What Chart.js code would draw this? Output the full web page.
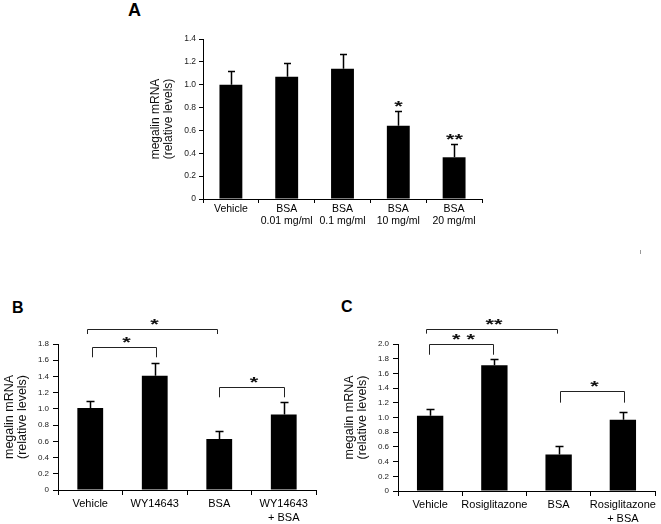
<!DOCTYPE html>
<html><head><meta charset="utf-8">
<script src="https://cdn.jsdelivr.net/npm/chart.js@4"></script>
<style>
html,body{margin:0;padding:0;background:#fff;}
body{width:661px;height:524px;position:relative;overflow:hidden;font-family:"Liberation Sans",Arial,sans-serif;}
canvas{position:absolute;}
.lbl{position:absolute;font-weight:bold;font-size:16px;line-height:16px;color:#000;}
.mark{position:absolute;left:640px;top:250px;width:1px;height:4px;background:#999;}
</style></head><body>
<div class="lbl" style="left:128px;top:1px;font-size:18px;line-height:18px">A</div>
<div class="lbl" style="left:12px;top:300px">B</div>
<div class="lbl" style="left:341px;top:299px">C</div>
<div class="mark"></div>
<canvas id="cA" width="354" height="235" style="left:146px;top:0px"></canvas>
<canvas id="cB" width="330" height="234" style="left:0px;top:290px"></canvas>
<canvas id="cC" width="321" height="234" style="left:340px;top:290px"></canvas>
<script>
// ---- Panel A data ----
const categoriesA = ['Vehicle', ['BSA','0.01 mg/ml'], ['BSA','0.1 mg/ml'], ['BSA','10 mg/ml'], ['BSA','20 mg/ml']];
const meansA = [1.00, 1.07, 1.14, 0.64, 0.365];
const errorsA = [0.12, 0.12, 0.13, 0.13, 0.12];
const starsA = ['', '', '', '*', '**'];
const yTicksA = ['0','0.2','0.4','0.6','0.8','1.0','1.2','1.4'];

// ---- Panel B data ----
const categoriesB = ['Vehicle', 'WY14643', 'BSA', ['WY14643','+ BSA']];
const meansB = [1.01, 1.41, 0.63, 0.93];
const errorsB = [0.09, 0.155, 0.095, 0.15];
const yTicksB = ['0','0.2','0.4','0.6','0.8','1.0','1.2','1.4','1.6','1.8'];
const bracketFromB = [-0.05, 0.03, 2.0];
const bracketToB = [1.97, 1.02, 3.0];
const bracketTopB = [1.985, 1.767, 1.274];
const bracketLowB = [1.923, 1.636, 1.143];
const bracketLabelB = ['*', '*', '*'];

// ---- Panel C data ----
const categoriesC = ['Vehicle', 'Rosiglitazone', 'BSA', ['Rosiglitazone','+ BSA']];
const meansC = [1.025, 1.71, 0.497, 0.97];
const errorsC = [0.09, 0.09, 0.12, 0.10];
const yTicksC = ['0','0.2','0.4','0.6','0.8','1.0','1.2','1.4','1.6','1.8','2.0'];
const bracketFromC = [-0.058, -0.022, 2.017];
const bracketToC = [1.975, 0.98, 3.018];
const bracketTopC = [2.209, 2.0, 1.362];
const bracketLowC = [2.141, 1.854, 1.202];
const bracketLabelC = ['**', '* *', '*'];

const FONT = "'Liberation Sans', Arial, sans-serif";

function drawStars(ctx, text, cx, cy) {
  ctx.save();
  ctx.font = 'bold 15px ' + FONT;
  ctx.fillStyle = '#111';
  ctx.textAlign = 'center';
  ctx.textBaseline = 'alphabetic';
  ctx.translate(cx, cy);
  ctx.scale(1.45, 1);
  ctx.fillText(text, 0, 8.5);
  ctx.restore();
}

function makeAnnot(cfg) {
  return {
    id: 'annot',
    afterDatasetsDraw(chart) {
      const ctx = chart.ctx, xs = chart.scales.x, ys = chart.scales.y;
      ctx.save();
      ctx.strokeStyle = '#000';
      ctx.lineWidth = 1.5;
      cfg.means.forEach((m, i) => {
        const px = Math.round(xs.getPixelForValue(i)) + 0.5;
        const y0 = ys.getPixelForValue(m);
        const y1 = Math.round(ys.getPixelForValue(m + cfg.errors[i])) + 0.5;
        ctx.beginPath();
        ctx.moveTo(px, y0); ctx.lineTo(px, y1);
        ctx.moveTo(px - cfg.cap, y1); ctx.lineTo(px + cfg.cap, y1);
        ctx.stroke();
        if (cfg.stars && cfg.stars[i]) drawStars(ctx, cfg.stars[i], px, y1 - 9);
      });
      if (cfg.from) {
        ctx.strokeStyle = '#222';
        ctx.lineWidth = 1;
        cfg.from.forEach((f, i) => {
          const x0 = Math.round(xs.getPixelForValue(f)) + 0.5;
          const x1 = Math.round(xs.getPixelForValue(cfg.to[i])) + 0.5;
          const yt = Math.round(ys.getPixelForValue(cfg.top[i])) + 0.5;
          const yl = ys.getPixelForValue(cfg.low[i]);
          ctx.beginPath();
          ctx.moveTo(x0, yl); ctx.lineTo(x0, yt); ctx.lineTo(x1, yt); ctx.lineTo(x1, yl);
          ctx.stroke();
          drawStars(ctx, cfg.labels[i], (x0 + x1) / 2 + 2, yt - 9);
        });
      }
      ctx.restore();
    }
  };
}

function makeChart(id, cats, means, yTicks, max, p, annot) {
  return new Chart(document.getElementById(id), {
    type: 'bar',
    data: {
      labels: cats,
      datasets: [{ data: means, backgroundColor: '#000', borderWidth: 0,
                   barPercentage: p.barPct, categoryPercentage: 1.0 }]
    },
    options: {
      responsive: false,
      animation: false,
      devicePixelRatio: 1,
      layout: { padding: { top: p.padTop, right: p.padRight, left: 0, bottom: 0 } },
      plugins: { legend: { display: false }, tooltip: { enabled: false } },
      scales: {
        x: {
          type: 'category',
          offset: true,
          grid: { display: true, offset: true, drawOnChartArea: false, drawTicks: true,
                  tickLength: p.xTick, color: '#000', lineWidth: 1 },
          border: { display: true, color: '#000', width: 1 },
          ticks: { color: '#000', padding: p.xPad, maxRotation: 0, autoSkip: false,
                   font: { family: FONT, size: p.xFont, lineHeight: p.xLH } },
          afterFit(s) { s.height = p.xHeight; }
        },
        y: {
          min: 0, max: max,
          grid: { display: true, drawOnChartArea: false, drawTicks: true,
                  tickLength: p.yTick, color: '#000', lineWidth: 1 },
          border: { display: true, color: '#000', width: 1 },
          ticks: { stepSize: 0.2, color: '#222', padding: p.yPad,
                   font: { family: FONT, size: p.yFont },
                   callback: (v, i) => yTicks[i] },
          title: { display: true, text: ['megalin mRNA', '(relative levels)'], color: '#111',
                   padding: { top: 3, bottom: 0 },
                   font: { family: FONT, size: p.tFont, lineHeight: p.tLH } },
          afterFit(s) { s.width = p.yWidth; }
        }
      }
    },
    plugins: [makeAnnot(annot)]
  });
}

makeChart('cA', categoriesA, meansA, yTicksA, 1.4,
  { barPct: 0.41, padTop: 39, padRight: 18, xHeight: 36, yWidth: 57, xTick: 4, yTick: 4,
    xPad: 0, yPad: 3, xFont: 10.5, xLH: 1.12, yFont: 8.5, tFont: 12, tLH: 13 / 12 },
  { means: meansA, errors: errorsA, stars: starsA, cap: 3.5 });

makeChart('cB', categoriesB, meansB, yTicksB, 1.8,
  { barPct: 0.40, padTop: 54, padRight: 14, xHeight: 34, yWidth: 58, xTick: 5, yTick: 5,
    xPad: 2, yPad: 4, xFont: 11, xLH: 14 / 11, yFont: 8, tFont: 12.5, tLH: 13 / 12.5 },
  { means: meansB, errors: errorsB, cap: 4, from: bracketFromB, to: bracketToB,
    top: bracketTopB, low: bracketLowB, labels: bracketLabelB });

makeChart('cC', categoriesC, meansC, yTicksC, 2.0,
  { barPct: 0.41, padTop: 54, padRight: 6, xHeight: 33, yWidth: 58, xTick: 5, yTick: 5,
    xPad: 2, yPad: 4, xFont: 11, xLH: 14 / 11, yFont: 8, tFont: 12.5, tLH: 13 / 12.5 },
  { means: meansC, errors: errorsC, cap: 4, from: bracketFromC, to: bracketToC,
    top: bracketTopC, low: bracketLowC, labels: bracketLabelC });
</script>
</body></html>
